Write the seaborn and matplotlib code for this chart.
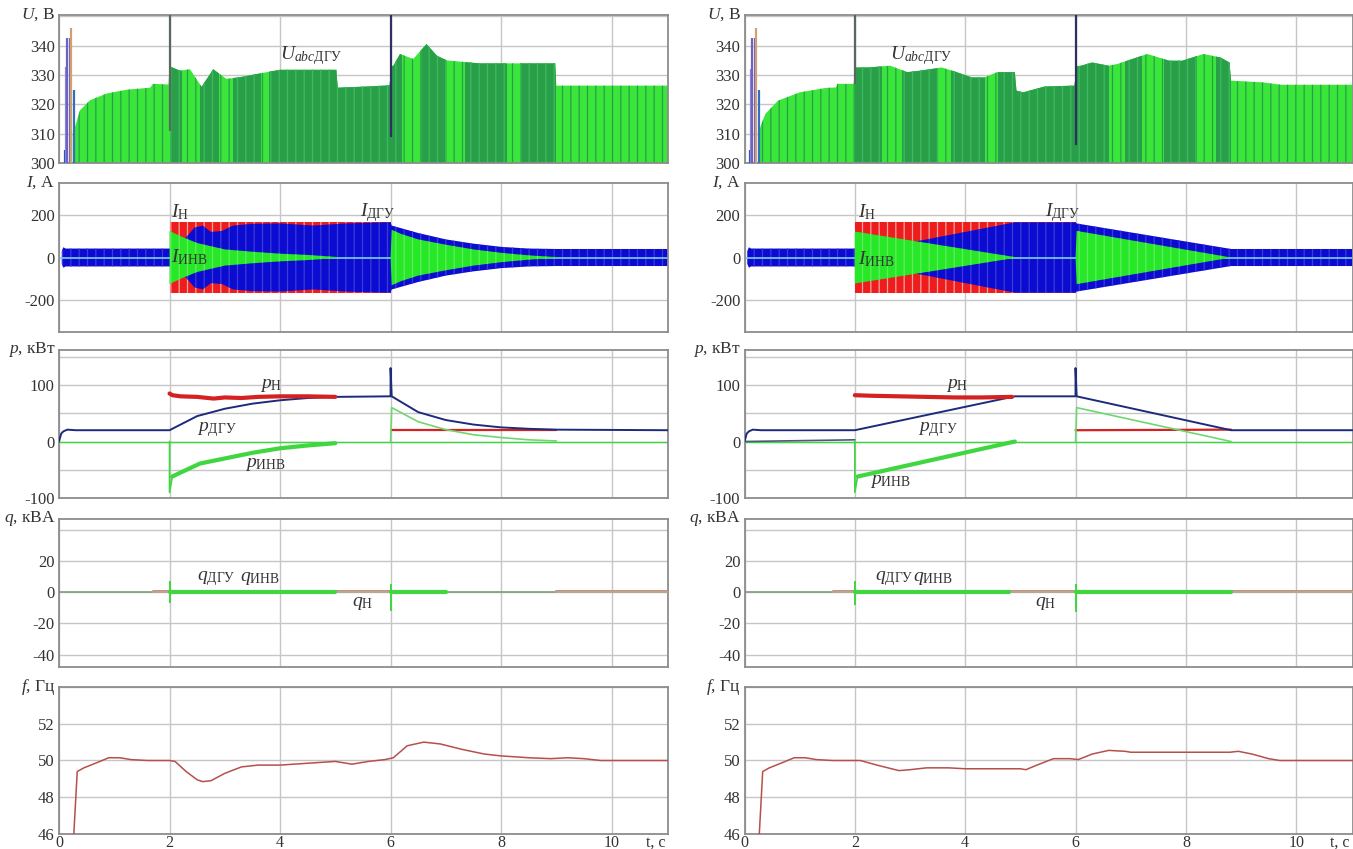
import numpy as np
import matplotlib
matplotlib.use("Agg")
import matplotlib.pyplot as plt
import seaborn as sns

# ======================= DATA =======================
# --- U panel: envelope of phase voltage peaks (V) ---
uL_t = [0.25, 0.30, 0.38, 0.56, 0.86, 1.22, 1.65, 1.70, 1.98, 2.00, 2.04, 2.19, 2.37, 2.58, 2.79, 3.03, 3.28,
        3.76, 4.00, 5.02, 5.04, 5.57, 5.98, 6.02, 6.05, 6.17, 6.41, 6.65, 6.84, 7.02, 7.60, 8.98, 9.00, 11.02]
uL_v = [310, 313, 318, 321.4, 323.7, 325, 325.7, 327, 326.8, 333, 332.7, 331.5, 332, 326, 332, 328.7, 329.3,
        331, 331.8, 331.8, 325.7, 326.1, 326.5, 333, 333.2, 337.2, 335.5, 340.6, 336.6, 335, 334, 334, 326.4, 326.4]
uR_t = [0.25, 0.30, 0.38, 0.61, 1.00, 1.47, 1.66, 1.68, 1.98, 2.00, 2.05, 2.25, 2.64, 2.95, 3.18, 3.57, 3.80,
        4.12, 4.35, 4.58, 4.90, 4.93, 5.05, 5.44, 5.98, 6.02, 6.10, 6.30, 6.60, 6.76, 7.30, 7.70, 7.93, 8.32,
        8.63, 8.79, 8.82, 9.40, 9.72, 11.02]
uR_v = [310, 313, 316.8, 321.3, 324.1, 325.6, 325.8, 327, 327, 332.6, 332.6, 332.6, 333.2, 331, 331.5, 332.6, 331.3,
        329.2, 329.2, 331, 331, 324.7, 324.1, 326.1, 326.4, 333, 333.2, 334.3, 333.2, 333.8, 337.2, 334.9, 334.9, 337.2,
        336, 334.3, 328.1, 327.5, 326.7, 326.7]
# dark-green dominated intervals
darkL_start = [2.00, 2.55, 3.15, 3.80, 6.55, 7.35, 8.35]
darkL_end = [2.22, 2.90, 3.65, 6.20, 7.00, 8.10, 9.00]
darkR_start = [2.00, 2.85, 3.75, 4.60, 6.90, 7.60, 8.55]
darkR_end = [2.50, 3.50, 4.35, 6.60, 7.20, 8.20, 8.82]
# transient spikes
spkL_t = [0.10, 0.12, 0.14, 0.19, 0.21, 0.27, 2.00, 6.00]
spkL_lo = [300, 300, 300, 300, 300, 300, 311, 309]
spkL_hi = [304.5, 332.7, 342.5, 342.5, 346, 325, 350.5, 350.5]
spkR_t = [0.10, 0.12, 0.14, 0.19, 0.21, 0.27, 2.00, 6.00]
spkR_lo = [300, 300, 300, 300, 300, 300, 327, 306]
spkR_hi = [304.5, 332, 342.5, 342.5, 346, 325, 350.5, 350.5]
spk_colors = ['#2050c0', '#8a8ad8', '#7060c0', '#7060c0', '#d0a070', '#3070c0', '#5a6660', '#303060']

# --- I panel: current amplitude envelopes (A) ---
IH_t = [2.0, 6.0]
IH_v = [165, 165]
IdguL_t = [0.05, 0.08, 0.12, 2.0, 2.3, 2.45, 2.6, 2.75, 2.95, 3.15, 3.5, 4.0, 4.6, 5.2, 5.9, 6.0, 6.02,
           6.2, 6.5, 7.0, 7.5, 8.0, 8.5, 9.0, 11.02]
IdguL_v = [30, 48, 42, 42, 95, 140, 150, 120, 125, 150, 158, 160, 150, 160, 165, 165, 150,
           137, 115, 85, 65, 50, 42, 40, 40]
IinvL1_t = [2.0, 2.2, 2.5, 3.0, 3.5, 4.0, 4.5, 5.0, 5.05]
IinvL1_v = [125, 100, 68, 38, 27, 18, 12, 3, 0]
IinvL2_t = [6.0, 6.02, 6.2, 6.5, 7.0, 7.5, 8.0, 8.5, 9.0, 9.1]
IinvL2_v = [0, 130, 110, 85, 60, 38, 22, 10, 2, 0]
IdguR_t = [0.05, 0.08, 0.12, 2.0, 3.0, 4.0, 4.9, 6.0, 6.02, 8.82, 11.02]
IdguR_v = [30, 48, 42, 42, 70, 120, 165, 165, 160, 40, 40]
IinvR1_t = [2.0, 4.95]
IinvR1_v = [122, 0]
IinvR2_t = [6.0, 6.02, 8.82]
IinvR2_v = [0, 125, 0]

# --- p panel (kW) ---
pdguL_t = [0.0, 0.04, 0.08, 0.15, 0.3, 2.0, 2.3, 2.5, 3.0, 3.5, 4.0, 4.5, 5.0, 6.0, 6.0, 6.02, 6.5, 7.0, 7.5,
           8.0, 8.5, 9.0, 11.02]
pdguL_v = [0, 14, 18, 21, 20, 20, 35, 45, 58, 67, 73, 77, 79, 80, 130, 80, 52, 38, 30, 25, 22.5, 21, 20]
pinvL_spk_t = [2.0, 2.0, 2.05]
pinvL_spk_v = [0, -90, -62]
pinvL_t = [2.05, 2.2, 2.55, 3.15, 3.5, 4.0, 4.5, 5.0]
pinvL_v = [-62, -55, -39, -27, -20, -12, -7, -3]
pinvL2_t = [6.0, 6.02, 6.5, 7.0, 7.5, 8.0, 8.5, 9.0]
pinvL2_v = [0, 60, 35, 21, 12, 7, 3, 1]
pHL_t = [2.0, 2.05, 2.2, 2.5, 2.8, 3.0, 3.3, 3.6, 4.0, 4.5, 5.0]
pHL_v = [85, 82, 80, 79, 76, 78, 77, 79, 80, 80, 79]
pHL2_t = [6.0, 9.0]
pHL2_v = [20, 20]
pdguR_t = [0.0, 0.04, 0.08, 0.15, 0.3, 2.0, 4.9, 6.0, 6.0, 6.02, 8.82, 11.02]
pdguR_v = [0, 14, 18, 21, 20, 20, 80, 80, 130, 80, 20, 20]
pauxR_t = [0.0, 2.0]
pauxR_v = [0, 3]
pinvR_spk_t = [2.0, 2.0, 2.05]
pinvR_spk_v = [0, -90, -62]
pinvR_t = [2.05, 4.9]
pinvR_v = [-62, 0]
pinvR2_t = [6.0, 6.02, 8.82]
pinvR2_v = [0, 60, 0]
pHR_t = [2.0, 2.3, 2.8, 3.3, 3.8, 4.3, 4.85]
pHR_v = [82, 81, 80, 79, 78, 78, 79]
pHR2_t = [6.0, 8.82]
pHR2_v = [20, 21]

# --- q panel (kVA) ---
qbase_t = [0.0, 11.02]
qbase_v = [0, 0]
qHL_segs = [(1.7, 2.0), (5.0, 6.0), (9.0, 11.02)]
qHR_segs = [(1.6, 2.0), (4.8, 6.0), (8.82, 11.02)]
qinvL_segs = [(2.0, 5.0), (6.0, 7.0)]
qinvR_segs = [(2.0, 4.8), (6.0, 8.82)]
qspkL_t = [2.0, 6.0]
qspkL_lo = [-7, -12]
qspkL_hi = [7, 5]
qspkR_t = [2.0, 6.0]
qspkR_lo = [-8, -13]
qspkR_hi = [7, 5]

# --- f panel (Hz) ---
fL_t = [0.25, 0.33, 0.45, 0.7, 0.9, 1.1, 1.3, 1.6, 2.0, 2.1, 2.3, 2.5, 2.6, 2.75, 3.0, 3.3, 3.6, 4.0, 4.5,
        5.0, 5.3, 5.6, 5.9, 6.05, 6.3, 6.6, 6.9, 7.3, 7.7, 8.0, 8.5, 8.9, 9.2, 9.5, 9.8, 11.02]
fL_v = [45, 49.4, 49.6, 49.9, 50.15, 50.15, 50.05, 50.0, 50.0, 49.95, 49.4, 48.95, 48.85, 48.9, 49.3, 49.65,
        49.75, 49.75, 49.85, 49.95, 49.8, 49.95, 50.05, 50.15, 50.8, 51.0, 50.9, 50.6, 50.35, 50.25, 50.15,
        50.1, 50.15, 50.1, 50.0, 50.0]
fR_t = [0.25, 0.33, 0.45, 0.7, 0.9, 1.1, 1.3, 1.6, 2.0, 2.1, 2.4, 2.8, 3.0, 3.3, 3.7, 4.0, 4.5, 5.0, 5.1,
        5.3, 5.6, 5.9, 6.05, 6.3, 6.6, 6.9, 7.0, 8.0, 8.8, 8.95, 9.2, 9.5, 9.7, 11.02]
fR_v = [45, 49.4, 49.6, 49.9, 50.15, 50.15, 50.05, 50.0, 50.0, 50.0, 49.75, 49.45, 49.5, 49.6, 49.6, 49.55,
        49.55, 49.55, 49.5, 49.75, 50.1, 50.1, 50.05, 50.35, 50.55, 50.5, 50.45, 50.45, 50.45, 50.5, 50.35,
        50.1, 50.0, 50.0]

x_ticks = [0, 2, 4, 6, 8, 10]

# ======================= STYLE =======================
sns.set_theme(style="white")
plt.rcParams["font.family"] = ["Liberation Serif", "DejaVu Serif"]
plt.rcParams["mathtext.fontset"] = "custom"
plt.rcParams["mathtext.rm"] = "Liberation Serif"
plt.rcParams["mathtext.it"] = "Liberation Serif:italic"
plt.rcParams["mathtext.bf"] = "Liberation Serif:bold"
plt.rcParams["hatch.linewidth"] = 0.9
plt.rcParams["axes.unicode_minus"] = False

C_BRIGHT = '#3ae63a'
C_DARK = '#2a9f4a'
C_BLUE = '#0b0bd2'
C_RED = '#ee1c1c'
C_GREEN = '#27e827'
C_NAVY = '#1e2a7a'
C_PRED = '#d42222'
C_PGREEN = '#3fd63f'
C_F = '#b5504a'
TXT = '#333333'

W, H = 1353, 849
fig = plt.figure(figsize=(W / 100, H / 100), dpi=100)
row_top = [15, 183, 350, 519, 687]
row_bot = [163, 332, 498, 667, 834]
col_x0 = [59, 744.5]
col_w = [609, 608]


def make_ax(r, c):
    return fig.add_axes([col_x0[c] / W, 1 - row_bot[r] / H, col_w[c] / W, (row_bot[r] - row_top[r]) / H])


def line(ax, t, v, color, lw, z=3):
    sns.lineplot(x=t, y=v, ax=ax, color=color, lw=lw, estimator=None, sort=False, zorder=z, legend=False)


def style(ax, ylim, yticks, ylabels, title, bottom=False):
    ax.set_xlim(0, 11.02)
    ax.set_ylim(*ylim)
    ax.set_xticks(x_ticks)
    ax.set_yticks(yticks)
    ax.set_yticklabels(ylabels)
    ax.grid(True, color='#c6c6c6', lw=1.0)
    ax.set_axisbelow(True)
    ax.tick_params(length=0, labelsize=12, labelcolor=TXT, pad=3)
    if bottom:
        ax.set_xticklabels([str(x) for x in x_ticks])
        ax.tick_params(axis='x', pad=0.5, labelsize=11.5)
        ax.text(10.62, -0.006, 't, c', transform=ax.get_xaxis_transform(), ha='left', va='top',
                fontsize=11.5, color=TXT)
    else:
        ax.set_xticklabels([])
    for s in ax.spines.values():
        s.set_color('#8c8c8c')
        s.set_linewidth(1.3)
    ax.text(-0.006, 1.0, title, transform=ax.transAxes, ha='right', va='center', fontsize=12.5, color=TXT)
    ax.set_xlabel('')
    ax.set_ylabel('')


cols = [
    dict(u_t=uL_t, u_v=uL_v, ds=darkL_start, de=darkL_end, st=spkL_t, slo=spkL_lo, shi=spkL_hi,
         idgu_t=IdguL_t, idgu_v=IdguL_v, iinv=[(IinvL1_t, IinvL1_v), (IinvL2_t, IinvL2_v)],
         pdgu_t=pdguL_t, pdgu_v=pdguL_v, pinv_spk=(pinvL_spk_t, pinvL_spk_v), pinv=(pinvL_t, pinvL_v),
         pinv2=(pinvL2_t, pinvL2_v), pH=(pHL_t, pHL_v), pH2=(pHL2_t, pHL2_v), paux=None,
         qH=qHL_segs, qinv=qinvL_segs, qst=qspkL_t, qlo=qspkL_lo, qhi=qspkL_hi,
         f_t=fL_t, f_v=fL_v,
         lab_U=(4.0, 336.5), lab_IH=(2.03, 212), lab_Idgu=(5.45, 212), lab_Iinv=(2.03, 0),
         lab_pH=(3.64, 100), lab_pdgu=(2.5, 22), lab_pinv=(3.37, -40),
         lab_qdgu=(2.5, 9), lab_qinv=(3.27, 9), lab_qH=(5.3, -7)),
    dict(u_t=uR_t, u_v=uR_v, ds=darkR_start, de=darkR_end, st=spkR_t, slo=spkR_lo, shi=spkR_hi,
         idgu_t=IdguR_t, idgu_v=IdguR_v, iinv=[(IinvR1_t, IinvR1_v), (IinvR2_t, IinvR2_v)],
         pdgu_t=pdguR_t, pdgu_v=pdguR_v, pinv_spk=(pinvR_spk_t, pinvR_spk_v), pinv=(pinvR_t, pinvR_v),
         pinv2=(pinvR2_t, pinvR2_v), pH=(pHR_t, pHR_v), pH2=(pHR2_t, pHR2_v), paux=(pauxR_t, pauxR_v),
         qH=qHR_segs, qinv=qinvR_segs, qst=qspkR_t, qlo=qspkR_lo, qhi=qspkR_hi,
         f_t=fR_t, f_v=fR_v,
         lab_U=(2.63, 336.5), lab_IH=(2.05, 212), lab_Idgu=(5.45, 212), lab_Iinv=(2.05, -8),
         lab_pH=(3.65, 100), lab_pdgu=(3.15, 22), lab_pinv=(2.27, -70),
         lab_qdgu=(2.37, 9), lab_qinv=(3.05, 9), lab_qH=(5.27, -7)),
]

LBL = dict(fontsize=14, color=TXT, va='center', ha='left', zorder=10)

for c, d in enumerate(cols):
    # ---------- U ----------
    ax = make_ax(0, c)
    env = ax.fill_between(d['u_t'], 300, d['u_v'], facecolor=C_BRIGHT, edgecolor=C_DARK, hatch='||', lw=0,
                          zorder=2)
    path = env.get_paths()[0]
    for a, b in zip(d['ds'], d['de']):
        r = ax.axvspan(a, b, facecolor=C_DARK, edgecolor='#3cbc5c', hatch='||', lw=0, zorder=2.1)
        r.set_clip_path(path, ax.transData)
    ax.vlines(d['st'], d['slo'], d['shi'], colors=spk_colors, lw=1.6, zorder=3)
    ax.text(*d['lab_U'], r'$U_{abc\mathrm{ДГУ}}$', **LBL)
    style(ax, (300, 350.5), [300, 310, 320, 330, 340, 350], ['300', '310', '320', '330', '340', ''],
          r'$U$, В')

    # ---------- I ----------
    ax = make_ax(1, c)
    ax.fill_between(IH_t, [-v for v in IH_v], IH_v, facecolor=C_RED, edgecolor='#f2a4a4', hatch='||', lw=0,
                    zorder=2)
    ax.fill_between(d['idgu_t'], [-v for v in d['idgu_v']], d['idgu_v'], facecolor=C_BLUE,
                    edgecolor='#3c3cd8', hatch='||', lw=0, zorder=2.2)
    line(ax, [0, 11.02], [0, 0], '#7ccff5', 1.2, z=2.3)
    for tt, vv in d['iinv']:
        ax.fill_between(tt, [-v for v in vv], vv, facecolor=C_GREEN, edgecolor='#60ec60', hatch='||', lw=0,
                        zorder=2.4)
    ax.text(*d['lab_IH'], r'$I_{\mathrm{Н}}$', **LBL)
    ax.text(*d['lab_Idgu'], r'$I_{\mathrm{ДГУ}}$', **LBL)
    ax.text(*d['lab_Iinv'], r'$I_{\mathrm{ИНВ}}$', **LBL)
    style(ax, (-350, 350), [-200, 0, 200], ['-200', '0', '200'], r'$I$, А')

    # ---------- p ----------
    ax = make_ax(2, c)
    line(ax, [0, 11.02], [0, 0], C_PGREEN, 1.0, z=2.5)
    if d['paux'] is not None:
        line(ax, d['paux'][0], d['paux'][1], '#4a5a78', 1.2, z=2.6)
    line(ax, d['pH2'][0], d['pH2'][1], C_PRED, 1.6, z=2.7)
    line(ax, d['pinv2'][0], d['pinv2'][1], '#6ed86e', 1.2, z=2.8)
    line(ax, d['pdgu_t'], d['pdgu_v'], C_NAVY, 1.4, z=3)
    line(ax, d['pinv_spk'][0], d['pinv_spk'][1], C_PGREEN, 1.2, z=3.1)
    line(ax, d['pinv'][0], d['pinv'][1], C_PGREEN, 3.0, z=3.2)
    line(ax, d['pH'][0], d['pH'][1], C_PRED, 3.0, z=3.3)
    ax.text(*d['lab_pH'], r'$p_{\mathrm{Н}}$', **LBL)
    ax.text(*d['lab_pdgu'], r'$p_{\mathrm{ДГУ}}$', **LBL)
    ax.text(*d['lab_pinv'], r'$p_{\mathrm{ИНВ}}$', **LBL)
    style(ax, (-100, 162), [-100, -50, 0, 50, 100, 150], ['-100', '', '0', '', '100', ''], r'$p$, кВт')

    # ---------- q ----------
    ax = make_ax(3, c)
    line(ax, qbase_t, qbase_v, '#7fa07a', 1.2, z=2.5)
    for a, b in d['qH']:
        line(ax, [a, b], [1.0, 1.0], '#b88a78', 1.3, z=2.6)
        line(ax, [a, b], [0.0, 0.0], '#c8a898', 1.1, z=2.6)
    for a, b in d['qinv']:
        line(ax, [a, b], [0.0, 0.0], C_PGREEN, 3.0, z=2.8)
    ax.vlines(d['qst'], d['qlo'], d['qhi'], colors=C_PGREEN, lw=1.4, zorder=2.9)
    ax.text(*d['lab_qdgu'], r'$q_{\mathrm{ДГУ}}$', **LBL)
    ax.text(*d['lab_qinv'], r'$q_{\mathrm{ИНВ}}$', **LBL)
    ax.text(*d['lab_qH'], r'$q_{\mathrm{Н}}$', **LBL)
    style(ax, (-48, 47), [-40, -20, 0, 20, 40], ['-40', '-20', '0', '20', ''], r'$q$, кВА')

    # ---------- f ----------
    ax = make_ax(4, c)
    line(ax, d['f_t'], d['f_v'], C_F, 1.1, z=3)
    style(ax, (46, 54), [46, 48, 50, 52, 54], ['46', '48', '50', '52', ''], r'$f$, Гц', bottom=True)

fig.savefig('out.png', dpi=100)
